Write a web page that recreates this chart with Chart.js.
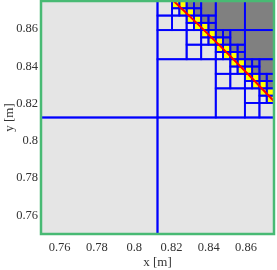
<!DOCTYPE html>
<html>
<head>
<meta charset="utf-8">
<script src="https://cdn.jsdelivr.net/npm/chart.js@4.4.1/dist/chart.umd.min.js"></script>
<style>
	body { margin: 0; background: #ffffff; }
</style>
</head>
<body>
<canvas id="mycanvas" width="277" height="270"></canvas>
<script>
// axes
var xRange = [0.75, 0.875];
var yRange = [0.75, 0.875];
var xTicks = [0.76, 0.78, 0.8, 0.82, 0.84, 0.86];
var yTicks = [0.76, 0.78, 0.8, 0.82, 0.84, 0.86];
var xTickLabels = ["0.76", "0.78", "0.8", "0.82", "0.84", "0.86"];
var yTickLabels = ["0.76", "0.78", "0.8", "0.82", "0.84", "0.86"];

// quadtree mesh, depth first, children in order TL, TR, BL, BR
// 1 = split, i = inside (light), o = outside (dark), c = cut by the interface (yellow)
var quadTL = "11i1ccicii11oocoo1ccic1oocoi1i1ccicii";
var quadTR = "1oo11oocoo1ccic1oocoo";
var quadBL = "i";
var quadBR = "11i1ccicii11oocoo1ccic1oocoi1i1ccicii";
var meshTree = "1i1" + quadTL + quadTR + quadBL + quadBR + "ii";

// interface curve (red)
var interfaceX = [0.8212, 0.835, 0.8485, 0.8618, 0.875];
var interfaceY = [0.875, 0.8618, 0.8485, 0.835, 0.8212];

var cellColors = { i: "#e5e5e5", o: "#808080", c: "#ffff00" };

var cells = [];
var pos = 0;
function readNode(x0, y0, size) {
	var ch = meshTree.charAt(pos++);
	if (ch === "1") {
		var h = size / 2;
		readNode(x0, y0 + h, h);
		readNode(x0 + h, y0 + h, h);
		readNode(x0, y0, h);
		readNode(x0 + h, y0, h);
	} else {
		cells.push({ x0: x0, y0: y0, x1: x0 + size, y1: y0 + size, state: ch });
	}
}
readNode(xRange[0], yRange[0], xRange[1] - xRange[0]);

var curve = [];
for (var k in interfaceX) {
	curve.push({ x: interfaceX[k], y: interfaceY[k] });
}

var meshPlugin = {
	id: "mesh",
	beforeDatasetsDraw: function(chart) {
		var ctx = chart.ctx;
		var xs = chart.scales.x, ys = chart.scales.y;
		ctx.save();
		cells.forEach(function(c) {
			var l = xs.getPixelForValue(c.x0), r = xs.getPixelForValue(c.x1);
			var t = ys.getPixelForValue(c.y1), b = ys.getPixelForValue(c.y0);
			ctx.fillStyle = cellColors[c.state];
			ctx.fillRect(l, t, r - l, b - t);
		});
		ctx.strokeStyle = "#0000ff";
		ctx.lineWidth = 1.8;
		cells.forEach(function(c) {
			var l = xs.getPixelForValue(c.x0), r = xs.getPixelForValue(c.x1);
			var t = ys.getPixelForValue(c.y1), b = ys.getPixelForValue(c.y0);
			ctx.strokeRect(l, t, r - l, b - t);
		});
		ctx.restore();
	},
	afterDraw: function(chart) {
		var a = chart.chartArea;
		var ctx = chart.ctx;
		ctx.save();
		ctx.strokeStyle = "rgb(72,186,116)";
		ctx.lineWidth = 2.5;
		ctx.strokeRect(a.left, a.top, a.right - a.left, a.bottom - a.top);
		ctx.restore();
	}
};

var tickFont = { family: "'Liberation Serif', 'DejaVu Serif', serif", size: 12.5 };
var titleFont = { family: "'Liberation Serif', 'DejaVu Serif', serif", size: 13 };

function noPad(scale) {
	scale.paddingTop = 0;
	scale.paddingBottom = 0;
	scale.paddingLeft = 0;
	scale.paddingRight = 0;
}

var ctx = document.getElementById("mycanvas");
var chart = new Chart(ctx, {
	type: "scatter",
	data: {
		datasets: [{
			data: curve,
			showLine: true,
			borderColor: "#ff0000",
			borderWidth: 2,
			pointRadius: 0,
			fill: false
		}]
	},
	options: {
		responsive: false,
		animation: false,
		layout: { padding: { left: 0, right: 3, top: 1, bottom: 0 } },
		plugins: { legend: { display: false }, tooltip: { enabled: false } },
		scales: {
			x: {
				type: "linear",
				min: xRange[0],
				max: xRange[1],
				grid: { display: false, drawTicks: false },
				border: { display: false },
				afterBuildTicks: function(scale) {
					scale.ticks = xTicks.map(function(v) { return { value: v }; });
				},
				afterFit: function(scale) { scale.height = 36; noPad(scale); },
				ticks: {
					autoSkip: false,
					maxRotation: 0,
					padding: 6,
					color: "#333333",
					font: tickFont,
					callback: function(v, i) { return xTickLabels[i]; }
				},
				title: { display: true, text: "x [m]", color: "#333333", font: titleFont, padding: { top: 0, bottom: 0 } }
			},
			y: {
				type: "linear",
				min: yRange[0],
				max: yRange[1],
				grid: { display: false, drawTicks: false },
				border: { display: false },
				afterBuildTicks: function(scale) {
					scale.ticks = yTicks.map(function(v) { return { value: v }; });
				},
				afterFit: function(scale) { scale.width = 41; noPad(scale); },
				ticks: {
					autoSkip: false,
					padding: 3,
					color: "#333333",
					font: tickFont,
					callback: function(v, i) { return yTickLabels[i]; }
				},
				title: { display: true, text: "y [m]", color: "#333333", font: titleFont, padding: { top: 1.5, bottom: 0 } }
			}
		}
	},
	plugins: [meshPlugin]
});
</script>
</body>
</html>
